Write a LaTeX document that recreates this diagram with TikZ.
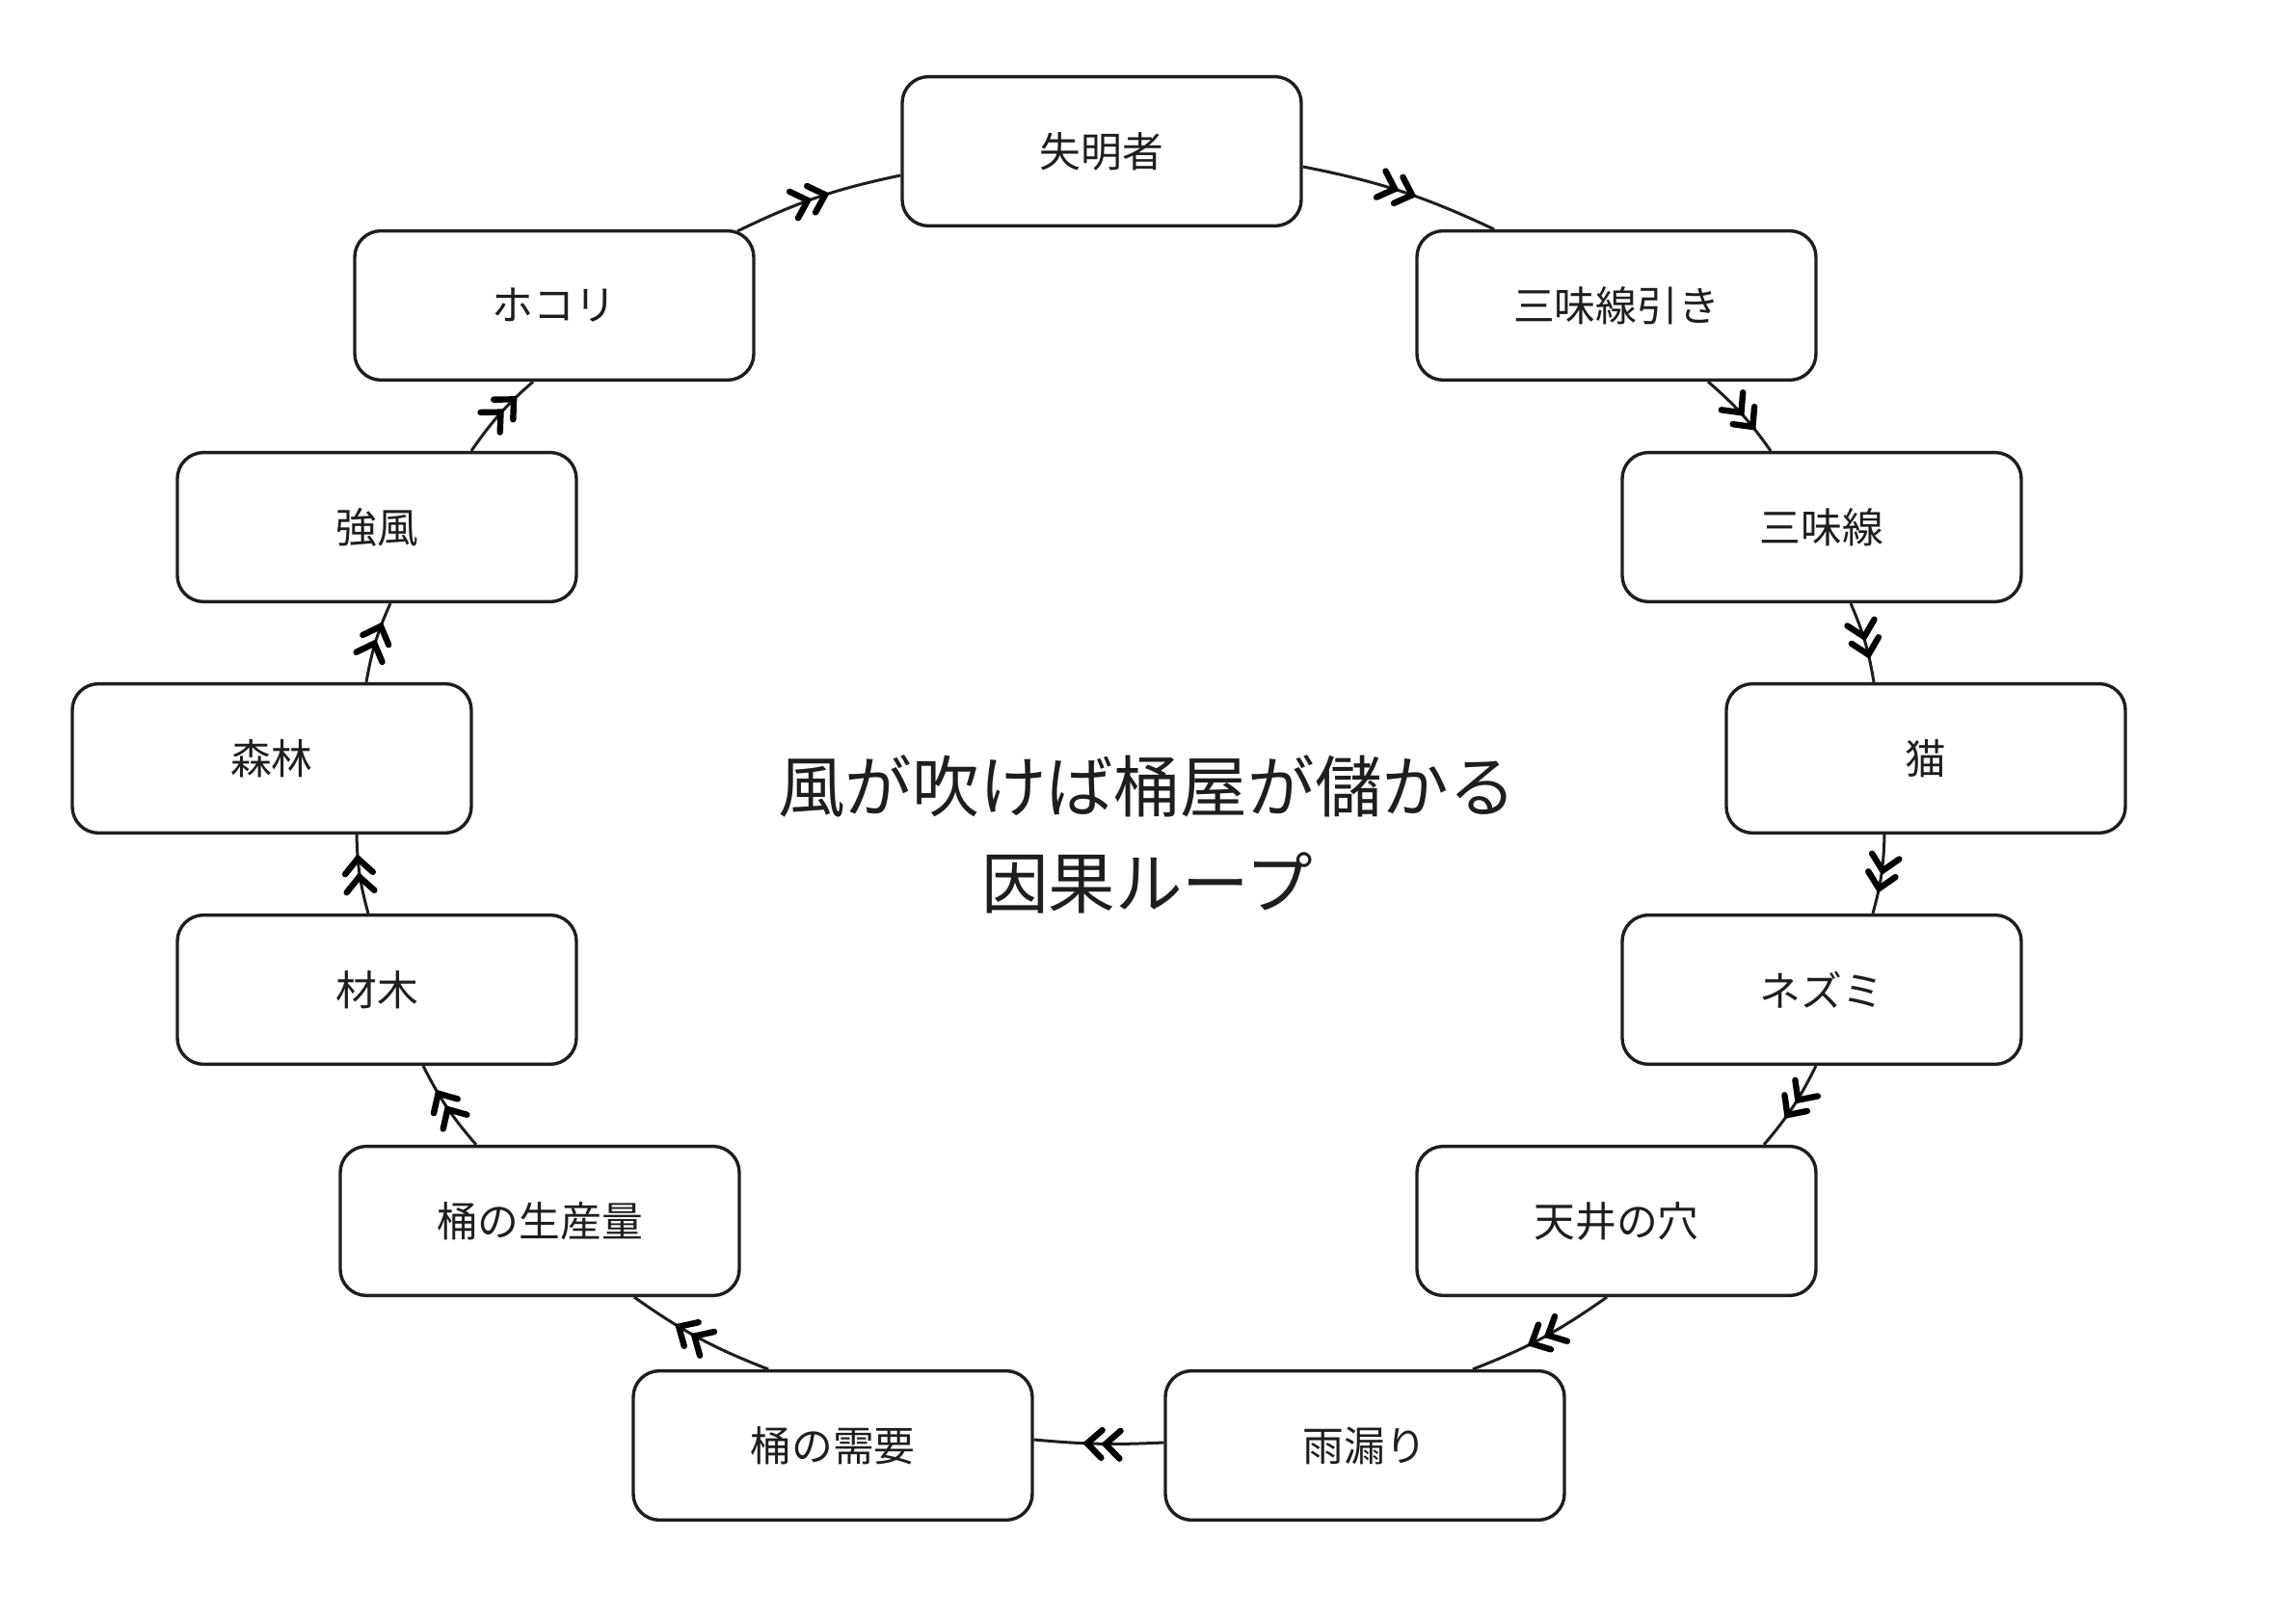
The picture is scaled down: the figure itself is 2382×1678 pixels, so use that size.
\documentclass[tikz,border=0pt]{standalone}
\usepackage{fontspec}
\newfontfamily\jpfont{Noto Sans CJK JP}
\usetikzlibrary{decorations.markings,calc,backgrounds}
\definecolor{ink}{HTML}{1E1E1E}
\begin{document}
\begin{tikzpicture}[x=0.25pt,y=-0.25pt,
  box/.style={draw=ink, line width=0.85pt, rounded corners=6.8pt, fill=white,
    minimum width=103.5pt, minimum height=38.7pt, inner sep=0pt,
    font=\jpfont\fontsize{10.7pt}{12pt}\selectfont, text=ink},
  flow/.style={draw=ink, line width=0.75pt, postaction={decorate},
    decoration={markings, mark=at position #1 with {
      \draw[black, line width=1.6pt, line cap=round, line join=miter]
        (-3.8pt,3.6pt) -- (0pt,0pt) -- (-3.8pt,-3.6pt)
        (-8.55pt,3.6pt) -- (-4.75pt,0pt) -- (-8.55pt,-3.6pt);}}},
  flow/.default=0.6,
  title/.style={font=\jpfont\fontsize{17.4pt}{25pt}\selectfont, align=center, text=ink}
]
\useasboundingbox (0,0) rectangle (2382,1678);

% causal chain, clockwise from the top
\node[box] (n1)  at (1143,157)  {失明者};
\node[box] (n2)  at (1677,317)  {三味線引き};
\node[box] (n3)  at (1890,547)  {三味線};
\node[box] (n4)  at (1998,787)  {猫};
\node[box] (n5)  at (1890,1027) {ネズミ};
\node[box] (n6)  at (1677,1267) {天井の穴};
\node[box] (n7)  at (1416,1500) {雨漏り};
\node[box] (n8)  at (864,1500)  {桶の需要};
\node[box] (n9)  at (560,1267)  {桶の生産量};
\node[box] (n10) at (391,1027)  {材木};
\node[box] (n11) at (282,787)   {森林};
\node[box] (n12) at (391,547)   {強風};
\node[box] (n13) at (575,317)   {ホコリ};

\node[title] (t) at (1190,866) {風が吹けば桶屋が儲かる\\因果ループ};

\begin{scope}[on background layer]
  \fill[white] (0,0) rectangle (2382,1678);
  \draw[flow=0.56] ($(n1.east)+(0,16)$)    to[bend left=7] ($(n2.north)+(-127,0)$);
  \draw[flow=0.68] ($(n2.south)+(95,0)$)   to[bend left=7] ($(n3.north)+(-53,0)$);
  \draw[flow=0.66] ($(n3.south)+(30,0)$)   to[bend left=7] ($(n4.north)+(-54,0)$);
  \draw[flow=0.68] ($(n4.south)+(-43,0)$)  to[bend left=7] ($(n5.north)+(53,0)$);
  \draw[flow=0.6]  ($(n5.south)+(-6,0)$)   to[bend left=7] ($(n6.north)+(153,0)$);
  \draw[flow=0.58] ($(n6.south)+(-10,0)$)  to[bend left=7] ($(n7.north)+(112,0)$);
  \draw[flow=0.59] ($(n7.west)+(0,-3)$)    to[bend left=4] ($(n8.east)+(0,-6)$);
  \draw[flow=0.65] ($(n8.north)+(-67,0)$)  to[bend left=7] ($(n9.south)+(98,0)$);
  \draw[flow=0.67] ($(n9.north)+(-66,0)$)  to[bend left=7] ($(n10.south)+(48,0)$);
  \draw[flow=0.7]  ($(n10.north)+(-9,0)$)  to[bend left=7] ($(n11.south)+(88,0)$);
  \draw[flow=0.7]  ($(n11.north)+(98,0)$)  to[bend left=7] ($(n12.south)+(14,0)$);
  \draw[flow=0.72] ($(n12.north)+(98,0)$)  to[bend left=7] ($(n13.south)+(-22,0)$);
  \draw[flow=0.55] ($(n13.north)+(190,2)$) to[bend left=7] ($(n1.west)+(0,25)$);
\end{scope}
\end{tikzpicture}
\end{document}
